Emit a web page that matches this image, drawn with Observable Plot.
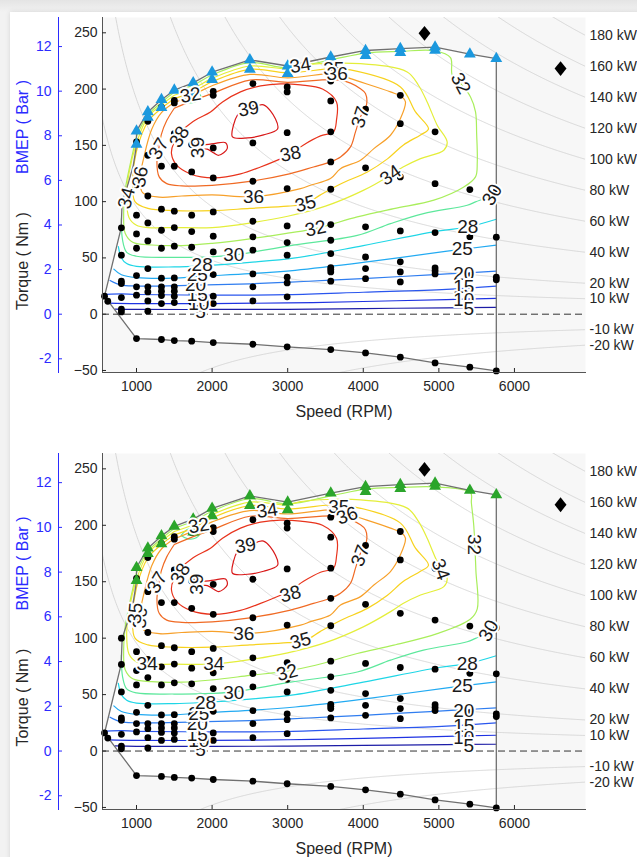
<!DOCTYPE html>
<html>
<head>
<meta charset="utf-8">
<title>Engine efficiency maps</title>
<script src="https://cdn.jsdelivr.net/npm/d3@7"></script>
<script src="https://cdn.jsdelivr.net/npm/@observablehq/plot@0.6"></script>
<style>
  html, body { margin: 0; padding: 0; }
  body { position: relative; width: 637px; height: 857px; overflow: hidden;
         background: linear-gradient(#e4e4e4, #f2f2f2 12px); }
  #card { position: absolute; left: 10px; top: 12px; width: 660px; height: 880px;
          background: #fff; box-shadow: 0 0 5px rgba(0,0,0,0.12); }
  .panel { position: absolute; left: 0; }
</style>
</head>
<body>
<div id="card"></div>
<div class="panel" id="mapA" style="top:0px"></div>
<div class="panel" id="mapB" style="top:436px"></div>
<script>
// ---- axes ----
const speedTicks = [1000, 2000, 3000, 4000, 5000, 6000];
const torqueTicks = [-50, 0, 50, 100, 150, 200, 250];
const bmepTicks = [-2, 0, 2, 4, 6, 8, 10, 12];
const speedRange = [550, 6940];
const torqueRange = [-51.8, 263.6];
const displacementL = 2.49;                 // swept volume used for the BMEP scale
const powerLevels = [180, 160, 140, 120, 100, 80, 60, 40, 20, 10, -10, -20];

// ---- operating envelope ----
const fullLoadSpeeds  = [1000, 1150, 1330, 1500, 1750, 2000, 2500, 3000, 3570, 4030, 4490, 4950, 5410, 5760];
const fullLoadTorques = [162.6, 179.7, 190.6, 199, 205.5, 215, 226, 220.5, 228.5, 234.3, 236, 237.3, 231, 227];
const repeatSpeeds  = [1000, 1150, 1330, 1750, 2000, 2500, 3000, 4030, 4490, 4950];
const repeatTorques = [151, 175, 183.5, 194, 208.4, 217.5, 213.7, 229.8, 232.5, 234.5];
const motoringSpeeds  = [1000, 1330, 1500, 1730, 2015, 2540, 2993, 3570, 4030, 4490, 4950, 5410, 5760];
const motoringTorques = [-21.7, -22.5, -23.4, -24, -25.2, -26.7, -29, -31.4, -34.4, -38.2, -43.3, -47.1, -50.4];
const idleEdge = [[633, 11], [577, 16], [797, 76.7], [810, 100], [890, 116], [957, 132], [1000, 150]];
const ratedPoints = [[4810, 249.5], [6610, 218.2]];

// ---- part-load test points, one column per speed ----
const testSpeeds = [577, 620, 800, 1000, 1150, 1330, 1500, 1730, 2015, 2540, 2993, 3570, 4030, 4490, 4950, 5410, 5760];
const testTorques = [
  [16],
  [11.5],
  [100, 76.7, 52.4, 29.3, 27.2, 14.8, 4.4, 2],
  [153, 115, 88, 71.3, 58.6, 34.3, 24.3, 16.9],
  [171.4, 141.2, 105, 81.1, 65.1, 40.5, 24.3, 19.8, 11.8, 2.7],
  [184, 131.5, 93.3, 74.6, 58.6, 32, 24.3, 20.4, 16.5, 9.4],
  [190, 187.7, 160.4, 131.5, 91.5, 77, 60.4, 32.2, 24.3, 20.4, 16, 10.3],
  [193.7, 150.7, 126.4, 88, 73.4, 59.5, 32.2, 26.6, 23.4, 19.2, 10.9],
  [198, 194.5, 147.7, 121.1, 90.9, 69.3, 55.3, 35.2, 16, 9.4],
  [204.9, 183.3, 152.2, 118.1, 82.6, 68.7, 56.9, 35.8, 24.3, 11.8],
  [201.9, 197.5, 161.3, 111.6, 78.4, 63.6, 52.4, 32.9, 27.8, 15.4],
  [207.2, 189.5, 162, 135.3, 111, 79.6, 65.7, 53.8, 41.4, 39.6, 37.6, 29.3],
  [182.1, 130, 77.6, 50.9, 40.5, 31.6],
  [194.5, 169.3, 122, 74, 46.5, 37.6, 28.7],
  [162, 116, 72.5, 41.1, 38.5, 35.8],
  [110.7, 68.9, 34, 31.6],
  [109.3, 68.4, 32.9, 30.5]
];

// ---- efficiency contours (% brake thermal efficiency), [rpm, Nm] ----
const contourLevels = [5, 10, 15, 20, 25, 28, 30, 32, 34, 35, 36, 37, 38, 39];
const contourColors = ["#1c1ca6", "#1f33e2", "#2a56ee", "#2f7df0", "#22aaf2", "#1fd6e6", "#5de89c",
                       "#a9ee5c", "#e4ee3a", "#f7d21e", "#f7a02a", "#f06a24", "#e8331c", "#d81818"];
const eff05 = [[720, 4.5], [1000, 4.2], [2000, 4.2], [3000, 4.3], [4000, 5], [5100, 5.7], [5760, 6]];
const eff10 = [[630, 9.8], [1000, 9.4], [2000, 9.4], [3000, 10], [4000, 11.3], [5100, 13], [5760, 14]];
const eff15 = [[605, 17.6], [800, 18], [1000, 17.5], [2000, 17], [3000, 17.3], [4000, 19.5], [5100, 22], [5760, 24.9]];
const eff20 = [[650, 30], [790, 26], [1000, 25], [1780, 25.8], [2500, 27], [3037, 28.5], [3570, 30.2], [4500, 33.5], [5110, 35.8], [5760, 38.2]];
const eff25 = [[700, 40], [800, 35], [1000, 32.5], [1500, 32], [1803, 33.5], [2500, 36], [3100, 39], [4000, 46], [5110, 56], [5760, 61.3]];
const eff28 = [[760, 60], [800, 50], [870, 45], [1000, 42.5], [1500, 42], [1868, 43], [2500, 46], [3100, 50], [4000, 61], [5000, 74], [5383, 77.5], [5760, 84.4]];
const eff30 = [[800, 85], [815, 66], [870, 55], [1000, 51.5], [1500, 50.5], [2000, 51], [2287, 52.4], [3037, 61], [3920, 70], [4360, 80.5], [4797, 89.4], [5375, 96.8], [5485, 99.8], [5706, 106], [5760, 110]];
const eff30Pocket = [[1590, 191], [1680, 196.5], [1790, 197], [1850, 194], [1790, 189], [1680, 188], [1590, 191]];
const eff32A = [[1000, 158], [900, 128], [850, 110], [830, 90], [850, 72], [950, 64], [1200, 61.5], [1600, 61], [2000, 63], [2500, 67], [3000, 72], [3368, 76], [3920, 86.4], [4404, 93.8], [4934, 101.3], [5330, 113], [5485, 122], [5508, 135], [5500, 160], [5485, 179.7], [5419, 193], [5287, 205], [5177, 212.3], [5154, 228], [4950, 234], [4490, 233.5], [4030, 232], [3570, 226], [3000, 219], [2500, 223.5], [2000, 212.5], [1750, 203.5], [1500, 197], [1330, 188], [1150, 177], [1000, 158]];
const eff32B = [[1000, 158], [900, 128], [850, 110], [830, 90], [850, 72], [950, 64], [1200, 61.5], [1600, 61], [2000, 63], [2500, 67], [3000, 71], [3368, 76], [3920, 86.4], [4404, 93.8], [4978, 104], [5419, 117], [5508, 126], [5490, 160], [5462, 199.6], [5430, 220], [5419, 229], [4950, 234], [4490, 233.5], [4030, 232], [3570, 226], [3000, 219], [2500, 223.5], [2000, 212.5], [1750, 203.5], [1500, 197], [1330, 188], [1150, 177], [1000, 158]];
const eff34 = [[1500, 194.5], [1330, 186], [1150, 175], [1000, 152], [900, 125], [870, 103], [900, 86], [1000, 79], [1150, 77], [1500, 77], [2000, 77], [2500, 81], [3000, 87], [3500, 96], [4000, 110], [4361, 123.5], [4526, 130.7], [4757, 138.2], [5066, 145.7], [5110, 153], [4978, 167.9], [4845, 188.6], [4730, 203.4], [4581, 215.2], [3963, 222.6], [3169, 221], [3000, 218], [2500, 220.5], [2000, 209.5], [1750, 200.5], [1500, 194.5]];
const eff35 = [[1500, 191.5], [1330, 183], [1150, 171], [1000, 145], [950, 120], [980, 100], [1150, 94], [1500, 92], [2000, 92], [2500, 94], [3000, 96], [3236, 98], [3434, 106], [3699, 115.7], [4055, 126.4], [4320, 138], [4532, 150.4], [4757, 159.3], [4863, 164.6], [4691, 179.7], [4492, 201.9], [3831, 217], [3606, 218.2], [3000, 214.5], [2500, 217.5], [2000, 206.5], [1750, 197.5], [1500, 191.5]];
const eff36 = [[1500, 188], [1330, 179], [1200, 164], [1100, 140], [1050, 122], [1080, 108], [1300, 104], [1600, 105], [2000, 106], [2549, 104.5], [3170, 111.6], [3302, 114.6], [3566, 120.5], [3699, 129.3], [3963, 136.8], [4140, 147.1], [4360, 159], [4492, 173.8], [4558, 188.6], [4514, 193], [4360, 197.5], [3831, 209.3], [3654, 213.7], [3000, 210], [2500, 213], [2000, 203], [1750, 195], [1500, 188]];
const eff37 = [[1500, 183], [1400, 172], [1330, 160], [1295, 147], [1270, 135], [1300, 122], [1400, 116], [1600, 114], [2000, 114.5], [2500, 118], [3037, 124.9], [3341, 130.8], [3566, 135.3], [3699, 139.7], [3831, 148.6], [3897, 162], [3963, 175.3], [4042, 185.7], [4029, 196], [3963, 200.4], [3699, 207.9], [3000, 206], [2500, 208], [2000, 196], [1750, 190], [1500, 183]];
const eff38 = [[1621, 164.6], [1780, 172.6], [1979, 179.7], [2138, 188.6], [2376, 197.5], [2641, 202.8], [2905, 204.6], [3170, 203.7], [3460, 200.1], [3646, 188.6], [3646, 172.6], [3606, 162], [3434, 158.4], [3210, 150.4], [3037, 142.4], [2905, 138], [2641, 130.8], [2376, 124.6], [2019, 121.1], [1714, 124.6], [1529, 132.6], [1463, 142.4], [1489, 151.3], [1569, 157.5], [1621, 164.6]];
const eff39Upper = [[2560, 184], [2681, 186], [2839, 173.5], [2866, 164.6], [2681, 159.3], [2469, 156.6], [2270, 157.5], [2284, 168.2], [2336, 177], [2400, 181], [2560, 184]];
const eff39Lower = [[1860, 150], [2023, 151.5], [2178, 152.4], [2200, 147.1], [2089, 141.2], [2023, 143.3], [1936, 146.6], [1860, 147], [1860, 150]];

// ---- contour labels: [level, rpm, Nm, angle] ----
const labelsA = [
  [5, 1846, 2, 0], [10, 1824, 9.4, 0], [15, 1803, 16.9, 0], [20, 1780, 25.8, 0], [25, 1803, 34.6, 0], [28, 1868, 43.5, 0],
  [30, 2287, 52.4, 0], [32, 3368, 76, -12], [35, 3236, 98, -15], [36, 2549, 104.5, 0], [34, 4361, 123.5, -35],
  [37, 3963, 175, -72], [38, 3037, 142.4, -12], [38, 1569, 157.5, -60], [37, 1295, 147, -60], [39, 1810, 148, -90],
  [39, 2482, 182.4, -10], [32, 1715, 194.5, -10], [34, 3169, 221, -10], [35, 3609, 218.2, 0], [36, 3654, 213.7, 0],
  [32, 5287, 205, 62], [30, 5706, 106, -60], [28, 5383, 77.5, 0], [25, 5309, 58.3, 0], [20, 5330, 36, 0],
  [15, 5330, 24.3, 0], [10, 5330, 13, 0], [5, 5397, 5, 0], [36, 1050, 122, -80], [34, 870, 103, -75]
];
const labelsB = [
  [5, 1846, 1.4, 0], [10, 1824, 8.9, 0], [15, 1803, 14.7, 0], [20, 1803, 23.6, 0], [25, 1824, 32.5, 0], [28, 1913, 42.2, 0],
  [30, 2287, 51.7, 0], [32, 2993, 69.5, -15], [34, 1141, 76.8, 0], [34, 2022, 76.8, 0], [35, 3170, 97.6, -15],
  [36, 2420, 103.5, 0], [38, 3037, 139, -15], [38, 1582, 156.9, -60], [37, 1274, 149.3, -60], [39, 1803, 147.8, -90],
  [39, 2442, 181.9, -10], [32, 1824, 199.6, -10], [34, 2728, 213, -8], [35, 3676, 215.9, 0], [36, 3787, 208.5, -20],
  [37, 3963, 173, -70], [34, 5022, 161, 70], [32, 5462, 183, 90], [30, 5661, 106.5, -60],
  [28, 5375, 76.8, 0], [25, 5309, 57.7, 0], [20, 5330, 35.5, 0], [15, 5330, 22.7, 0], [10, 5330, 11.8, 0], [5, 5397, 4.4, 0],
  [36, 1050, 118, -85], [35, 985, 122, -85]
];

const contoursA = [[5, eff05], [10, eff10], [15, eff15], [20, eff20], [25, eff25], [28, eff28], [30, eff30], [30, eff30Pocket],
  [32, eff32A], [34, eff34], [35, eff35], [36, eff36], [37, eff37], [38, eff38], [39, eff39Upper], [39, eff39Lower]];
const contoursB = contoursA.map(([lv, path]) => [lv, path === eff32A ? eff32B : path]);

// ---- derived geometry ----
const nmPerBar = displacementL * 1e-3 * 1e5 / (4 * Math.PI);
const torqueAtPower = (kw, rpm) => kw * 1000 * 60 / (2 * Math.PI * rpm);

const envelope = [
  ...fullLoadSpeeds.map((s, i) => [s, fullLoadTorques[i]]),
  ...motoringSpeeds.map((s, i) => [s, motoringTorques[i]]).reverse(),
  ...idleEdge,
  [fullLoadSpeeds[0], fullLoadTorques[0]]
];
const isoPower = powerLevels.flatMap(p =>
  d3.range(speedRange[0], speedRange[1] + 1, 10).map(n => ({p, n, t: torqueAtPower(p, n)})));
const testPoints = [
  ...testSpeeds.flatMap((s, i) => testTorques[i].map(t => [s, t])),
  ...motoringSpeeds.map((s, i) => [s, motoringTorques[i]])
];
const triangles = [
  ...fullLoadSpeeds.map((s, i) => [s, fullLoadTorques[i]]),
  ...repeatSpeeds.map((s, i) => [s, repeatTorques[i]])
];

const tallDiamond = {
  draw(ctx, size) {
    const h = Math.sqrt(size) * 0.75, w = h * 0.8;
    ctx.moveTo(0, -h); ctx.lineTo(w, 0); ctx.lineTo(0, h); ctx.lineTo(-w, 0); ctx.closePath();
  }
};

const FONT = "'Liberation Sans', Arial, Helvetica, sans-serif";
const INK = "#262626";
const BMEP_BLUE = "#2b2bff";

function effMap({contours, labels, markerColor, height, marginBottom}) {
  const lines = contours.flatMap(([level, path], id) => path.map(([s, t]) => ({level, id, s, t})));
  return Plot.plot({
    width: 637, height,
    marginLeft: 102, marginRight: 52, marginTop: 17, marginBottom,
    x: {domain: speedRange},
    y: {domain: torqueRange},
    color: {type: "ordinal", domain: contourLevels, range: contourColors},
    style: {fontFamily: FONT, background: "transparent", color: INK, overflow: "visible"},
    marks: [
      Plot.frame({fill: "#f7f7f7", stroke: null}),
      Plot.line(envelope, {x: d => d[0], y: d => d[1], fill: "white", stroke: null}),
      Plot.line(isoPower, {x: "n", y: "t", z: "p", stroke: "#cfcfcf", strokeWidth: 0.8, clip: true}),
      Plot.line(lines, {x: "s", y: "t", z: "id", stroke: "level", strokeWidth: 1.2, curve: "catmull-rom"}),
      Plot.line(envelope, {x: d => d[0], y: d => d[1], stroke: "#707070", strokeWidth: 1.3}),
      Plot.ruleY([0], {stroke: "#333", strokeWidth: 1, strokeDasharray: "7,4"}),
      Plot.dot(testPoints, {x: d => d[0], y: d => d[1], r: 3.4, fill: "black"}),
      Plot.dot(triangles, {x: d => d[0], y: d => d[1], symbol: "triangle", r: 4.4, fill: markerColor}),
      Plot.dot(ratedPoints, {x: d => d[0], y: d => d[1], symbol: tallDiamond, r: 5.6, fill: "black"}),
      Plot.text(labels, {x: d => d[1], y: d => d[2], text: d => String(d[0]), rotate: d => d[3],
        fontSize: 19, fill: "#1a1a1a", stroke: "white", strokeWidth: 4}),
      Plot.text(powerLevels, {x: () => speedRange[1], y: p => torqueAtPower(p, speedRange[1]),
        text: p => `${p} kW`, textAnchor: "start", dx: 4, fontSize: 14, fill: INK}),
      Plot.frame({anchor: "left", stroke: "#555"}),
      Plot.frame({anchor: "bottom", stroke: "#555"}),
      Plot.axisX({ticks: speedTicks, tickFormat: "d", tickSize: -4, tickPadding: 13, fontSize: 14, label: null, color: INK}),
      Plot.axisY({ticks: torqueTicks, tickFormat: "d", tickSize: -4, tickPadding: 9, fontSize: 14, label: null, color: INK}),
      Plot.frame({anchor: "left", dx: -44, stroke: BMEP_BLUE}),
      Plot.axisY({ticks: bmepTicks.map(b => b * nmPerBar), tickFormat: v => String(Math.round(v / nmPerBar)),
        anchor: "left", dx: -44, tickSize: -4, tickPadding: 11, fontSize: 14, label: null, color: BMEP_BLUE}),
      Plot.text(["Speed (RPM)"], {text: d => d, frameAnchor: "bottom", lineAnchor: "middle", dy: 39, fontSize: 16, fill: INK}),
      Plot.text(["Torque ( Nm )"], {text: d => d, frameAnchor: "left", textAnchor: "middle", lineAnchor: "middle",
        dx: -80, dy: 66, rotate: -90, fontSize: 16, fill: INK}),
      Plot.text(["BMEP ( Bar )"], {text: d => d, frameAnchor: "left", textAnchor: "middle", lineAnchor: "middle",
        dx: -80, dy: -68, rotate: -90, fontSize: 16, fill: BMEP_BLUE})
    ]
  });
}

document.getElementById("mapA").append(effMap({contours: contoursA, labels: labelsA, markerColor: "#1b98de", height: 430, marginBottom: 58}));
document.getElementById("mapB").append(effMap({contours: contoursB, labels: labelsB, markerColor: "#2ba52b", height: 421, marginBottom: 48}));
</script>
</body>
</html>
